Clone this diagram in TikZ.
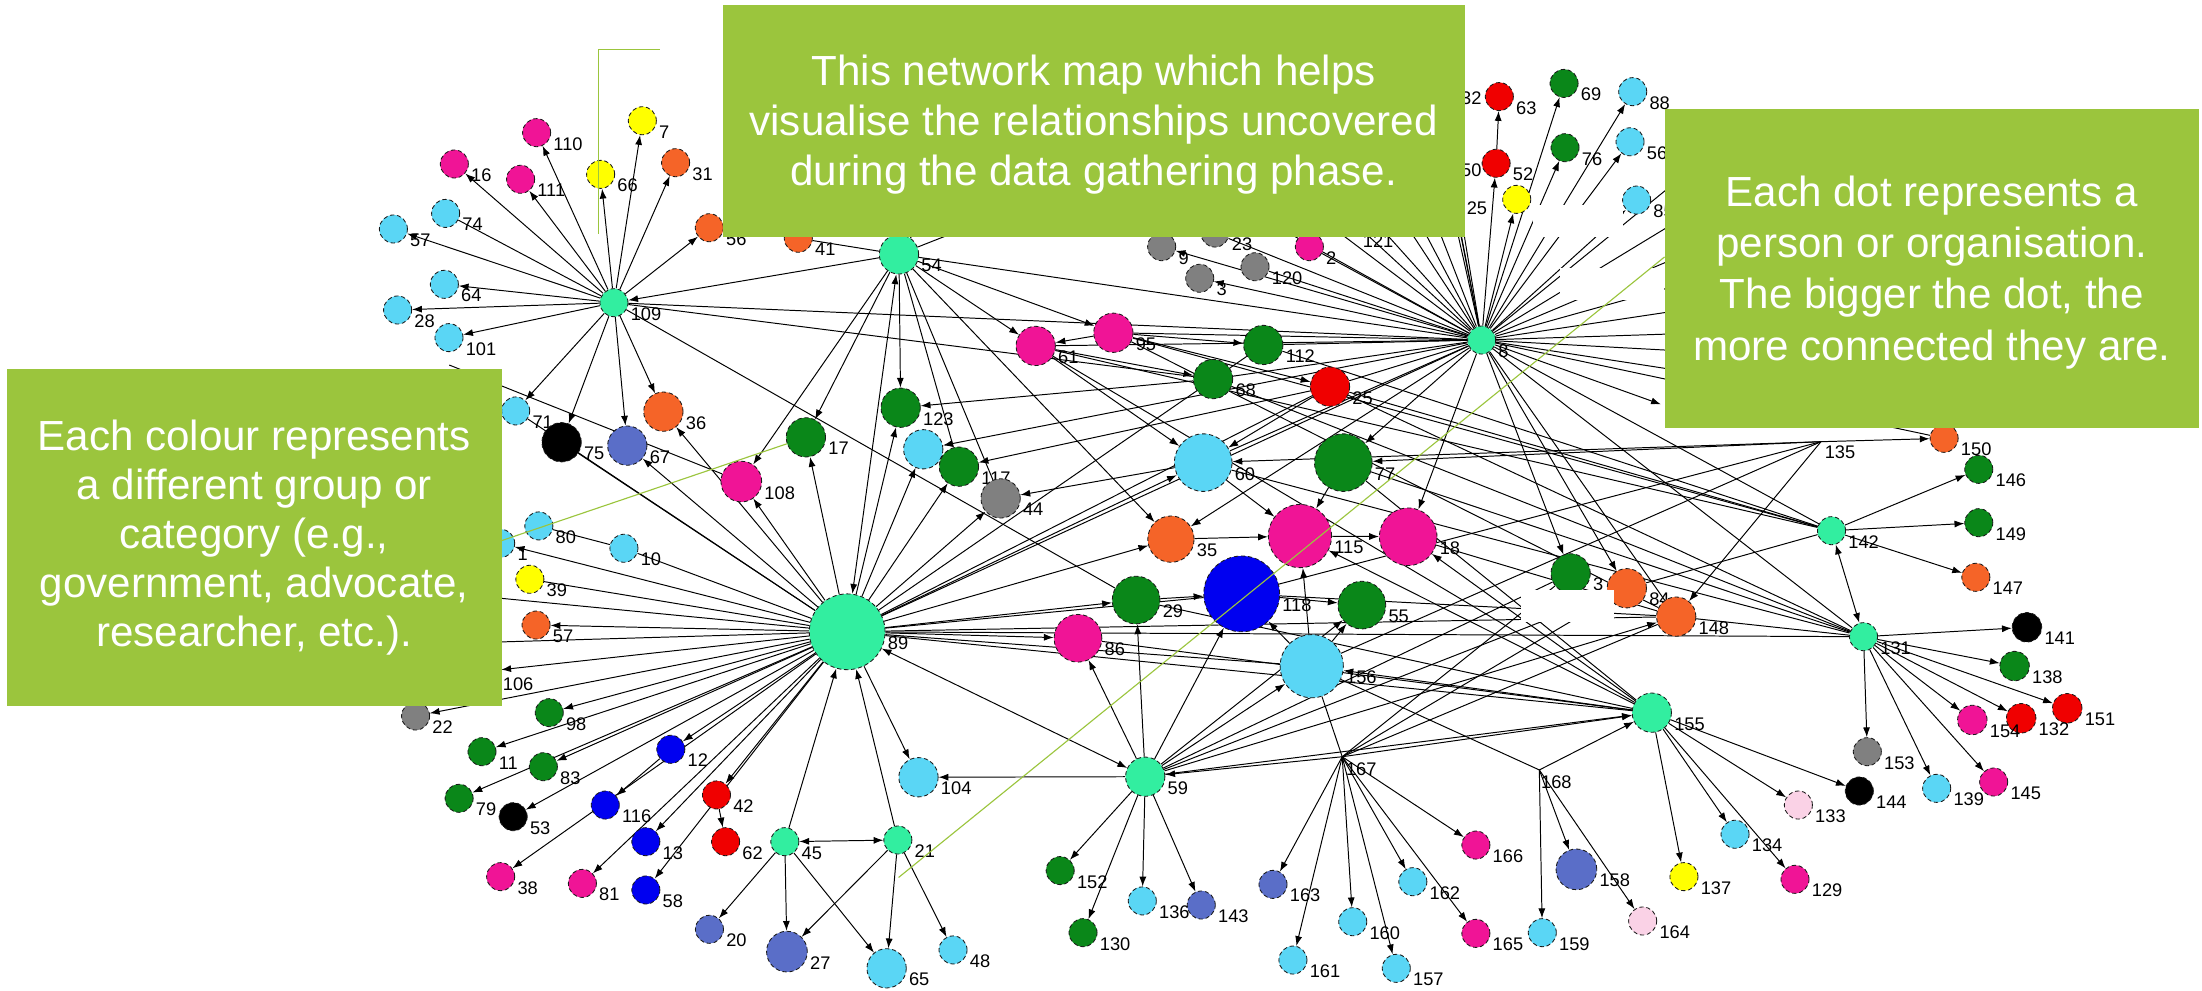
\documentclass[tikz,border=0pt]{standalone}
\usepackage{fontspec}
\setmainfont{Liberation Sans}
\usetikzlibrary{arrows.meta}
\pgfdeclarelayer{bg}
\pgfsetlayers{bg,main}
\definecolor{chub}{RGB}{50,238,160}
\definecolor{ccy}{RGB}{90,214,245}
\definecolor{cmg}{RGB}{240,20,150}
\definecolor{cgr}{RGB}{10,135,25}
\definecolor{cor}{RGB}{245,100,40}
\definecolor{crd}{RGB}{240,0,0}
\definecolor{cye}{RGB}{255,255,0}
\definecolor{cbl}{RGB}{0,0,240}
\definecolor{csl}{RGB}{90,110,200}
\definecolor{cgy}{RGB}{128,128,128}
\definecolor{cbk}{RGB}{0,0,0}
\definecolor{cpk}{RGB}{250,210,230}
\definecolor{cbox}{RGB}{155,197,61}
\tikzset{
 dot/.style={circle, draw=black!90, densely dashed, line width=0.6pt, inner sep=0pt},
 lab/.style={font=\fontsize{13}{13}\selectfont, inner sep=0.5pt, anchor=west},
 ed/.style={line width=0.7pt, -{Latex[length=7pt,width=5pt]}},
 pl/.style={line width=0.7pt},
 bi/.style={line width=0.7pt, {Latex[length=7pt,width=5pt]}-{Latex[length=7pt,width=5pt]}},
 boxtext/.style={text=white, align=center, inner sep=0pt},
 callout/.style={draw=cbox, line width=0.8pt},
 patch/.style={fill=white}
}
\newcommand{\nd}[6]{\node[dot, fill=#5, minimum size=#4pt] (n#1) at (#2,#3) {};\node[lab] (l#1) at ([xshift=1pt,yshift=-8pt]n#1.east) {#6};}
\begin{document}
\begin{tikzpicture}[x=1pt,y=-1pt]
\useasboundingbox (0,0) rectangle (1568.4,705.8);
% ---------- nodes ----------
\nd{109}{437.3}{215.6}{20}{chub}{109}
\nd{110}{382.2}{94.5}{20}{cmg}{110}
\nd{16}{323.6}{116.8}{20}{cmg}{16}
\nd{111}{370.8}{127.7}{20}{cmg}{111}
\nd{66}{427.8}{124.2}{20}{cye}{66}
\nd{7}{457.5}{86}{20}{cye}{7}
\nd{31}{481.2}{115.9}{20}{cor}{31}
\nd{56o}{505.2}{162.2}{20}{cor}{56}
\nd{74}{317.4}{152}{20}{ccy}{74}
\nd{57c}{280.2}{163.1}{20}{ccy}{57}
\nd{64}{316.5}{202.5}{20}{ccy}{64}
\nd{28}{283.2}{220.8}{20}{ccy}{28}
\nd{101}{319.8}{240.5}{20}{ccy}{101}
\nd{71}{367.3}{292.7}{20}{ccy}{71}
\nd{75}{400}{315}{28}{cbk}{75}
\nd{67}{446.8}{317.4}{28}{csl}{67}
\nd{36}{472.5}{293.2}{28}{cor}{36}
\nd{41}{568.6}{169.7}{20}{cor}{41}
\nd{54}{640.3}{181.2}{28}{chub}{54}
\nd{9}{827.4}{175.7}{20}{cgy}{9}
\nd{3}{854.5}{198.2}{20}{cgy}{3}
\nd{120}{893.9}{190}{20}{cgy}{120}
\nd{23}{865.4}{166}{20}{cgy}{23}
\nd{2}{932.6}{175.7}{20}{cmg}{2}
\nd{95}{793}{237}{28}{cmg}{95}
\nd{61}{737.7}{246.4}{28}{cmg}{61}
\nd{112}{899.8}{245.7}{28}{cgr}{112}
\nd{68}{864}{270}{28}{cgr}{68}
\nd{25}{947.3}{275.4}{28}{crd}{25}
\nd{123}{641.5}{290.4}{28}{cgr}{123}
\nd{17}{574}{311.5}{28}{cgr}{17}
\nd{cy}{657.6}{320}{28}{ccy}{}
\nd{117}{683}{332.4}{28}{cgr}{117}
\nd{44}{712.7}{355}{28}{cgy}{44}
\nd{108}{528}{343}{29}{cmg}{108}
\nd{60}{857}{329.5}{41}{ccy}{60}
\nd{77}{956.8}{329.5}{41}{cgr}{77}
\nd{35}{834}{384}{33}{cor}{35}
\nd{115}{925.9}{381.8}{45}{cmg}{115}
\nd{18}{1003}{382.3}{41}{cmg}{18}
\nd{118}{884.4}{423}{54}{cbl}{118}
\nd{29}{809.2}{427.4}{34}{cgr}{29}
\nd{86}{767.8}{454.6}{34}{cmg}{86}
\nd{55}{970}{431}{34}{cgr}{55}
\nd{156}{934.3}{474.5}{45}{ccy}{156}
\nd{3g}{1118.7}{408.4}{28}{cgr}{3}
\nd{84}{1158.7}{419}{28}{cor}{84}
\nd{148}{1193.9}{439.2}{28}{cor}{148}
\nd{89}{603.4}{450}{54}{chub}{89}
\nd{80}{383.8}{374.6}{20}{ccy}{80}
\nd{10}{444.4}{390.5}{20}{ccy}{10}
\nd{1}{356.6}{387}{20}{ccy}{1}
\nd{39}{377.4}{412.6}{20}{cye}{39}
\nd{57}{381.8}{445.2}{20}{cor}{57}
\nd{22}{296}{510}{20}{cgy}{22}
\nd{98}{391.2}{507.6}{20}{cgr}{98}
\nd{11}{343.3}{535.4}{20}{cgr}{11}
\nd{83}{387}{546.1}{20}{cgr}{83}
\nd{79}{327}{568.6}{20}{cgr}{79}
\nd{53}{365.5}{581.7}{20}{cbk}{53}
\nd{12}{477.8}{533.7}{20}{cbl}{12}
\nd{116}{431.1}{573.4}{20}{cbl}{116}
\nd{42}{510.3}{566.2}{20}{crd}{42}
\nd{62}{516.8}{599.5}{20}{crd}{62}
\nd{13}{460}{599.5}{20}{cbl}{13}
\nd{38}{356.6}{624.4}{20}{cmg}{38}
\nd{81}{414.8}{629.2}{20}{cmg}{81}
\nd{58}{460}{633.9}{20}{cbl}{58}
\nd{45}{559}{599.5}{20}{chub}{45}
\nd{21}{639.5}{598.3}{20}{chub}{21}
\nd{20}{505.3}{661.9}{20}{csl}{20}
\nd{27}{560.5}{677.8}{29}{csl}{27}
\nd{65}{631.5}{689.7}{28}{ccy}{65}
\nd{48}{678.8}{676.6}{20}{ccy}{48}
\nd{104}{654.2}{553.6}{28}{ccy}{104}
\nd{59}{815.7}{553.2}{28}{chub}{59}
\nd{152}{755.1}{620.1}{20}{cgr}{152}
\nd{130}{771.4}{664.3}{20}{cgr}{130}
\nd{136}{813.6}{641.7}{20}{ccy}{136}
\nd{143}{855.6}{644.6}{20}{csl}{143}
\nd{163}{906.7}{629.9}{20}{csl}{163}
\nd{161}{920.9}{683.8}{20}{ccy}{161}
\nd{160}{963.5}{656.5}{20}{ccy}{160}
\nd{157}{994.5}{689.7}{20}{ccy}{157}
\nd{162}{1006.3}{628}{20}{ccy}{162}
\nd{165}{1051.2}{664.8}{20}{cmg}{165}
\nd{166}{1051.2}{601.9}{20}{cmg}{166}
\nd{158}{1122.8}{619.2}{29}{csl}{158}
\nd{159}{1098.5}{664.3}{20}{ccy}{159}
\nd{164}{1170}{656}{20}{cpk}{164}
\nd{155}{1176.5}{507.6}{28}{chub}{155}
\nd{133}{1280.9}{573.4}{20}{cpk}{133}
\nd{134}{1235.8}{594.2}{20}{ccy}{134}
\nd{137}{1199.4}{624.4}{20}{cye}{137}
\nd{129}{1278.5}{626.3}{20}{cmg}{129}
\nd{144}{1324.3}{563.4}{20}{cbk}{144}
\nd{153}{1330}{535.4}{20}{cgy}{153}
\nd{139}{1379.4}{561.5}{20}{ccy}{139}
\nd{145}{1420}{557}{20}{cmg}{145}
\nd{131}{1327.3}{453.5}{20}{chub}{131}
\nd{141}{1443.7}{446.8}{21}{cbk}{141}
\nd{138}{1434.9}{474.4}{21}{cgr}{138}
\nd{151}{1472.4}{504.5}{21}{crd}{151}
\nd{132}{1439.6}{511.6}{21}{crd}{132}
\nd{154}{1404.8}{512.8}{21}{cmg}{154}
\nd{142}{1304.5}{378}{20}{chub}{142}
\nd{146}{1409.4}{334.3}{20}{cgr}{146}
\nd{149}{1409.4}{372.3}{20}{cgr}{149}
\nd{147}{1407.3}{411.2}{20}{cor}{147}
\nd{150}{1384.7}{312.2}{20}{cor}{150}
\nd{8}{1055.3}{242.2}{20}{chub}{8}
\nd{63}{1067.9}{68.8}{20}{crd}{63}
\nd{52}{1065.6}{116.3}{20}{crd}{52}
\nd{ye}{1080.3}{142}{20}{cye}{}
\nd{69}{1114}{59.4}{20}{cgr}{69}
\nd{76}{1114.7}{105.2}{20}{cgr}{76}
\nd{88}{1162.9}{65.3}{20}{ccy}{88}
\nd{56c}{1161}{101}{20}{ccy}{56}
\nd{cy3}{1165.7}{142.5}{20}{ccy}{85}
% point nodes and hidden ends
\coordinate (n167) at (956,539);
\coordinate (n168) at (1096.4,548.4);
\coordinate (n135) at (1297,314.6);
\node[lab] (l167) at (958,548) {167};
\node[lab] (l168) at (1097,557) {168};
\node[lab] (l135) at (1299,322) {135};
\node[lab] (l106) at (357.5,487) {106};
\node[lab] (lT32) at (1040,70) {32};
\node[lab] (lT50) at (1040,121) {50};
\node[lab] (lT25) at (1044,148) {25};
\node[lab] (lT121) at (970,172) {121};
\coordinate (nX106) at (357,477);
\coordinate (nL1) at (330,458);
\coordinate (nL2) at (345,425);
\coordinate (nL3) at (320,260);
\coordinate (nTa) at (1025,60);
\coordinate (nTb) at (1030,112);
\coordinate (nTc) at (1035,140);
\coordinate (nTd) at (955,150);
\coordinate (nTe) at (1000,100);
\coordinate (nTf) at (975,90);
\coordinate (nTg) at (950,125);
\coordinate (nTh) at (1010,40);
\coordinate (nTi) at (985,135);
\coordinate (nTj) at (920,140);
\coordinate (nTk) at (880,145);
\coordinate (nTs1) at (600,100);
\coordinate (nTs2) at (690,110);
\coordinate (nTs3) at (745,140);
\coordinate (nRa) at (1230,100);
\coordinate (nRb) at (1240,130);
\coordinate (nRc) at (1250,160);
\coordinate (nRd) at (1260,185);
\coordinate (nRe) at (1270,210);
\coordinate (nRf) at (1280,235);
\coordinate (nRg) at (1290,255);
\coordinate (nRh) at (1300,280);
\coordinate (nRi) at (1183,288);
% ---------- edges ----------
\begin{pgfonlayer}{bg}
\fill[white] (0,0) rectangle (1568.4,705.8);
\foreach \a/\b in {109/110,109/111,109/16,109/66,109/7,109/31,109/56o,109/57c,109/64,109/28,109/101,109/71,109/75,109/67,109/36,54/109,
 54/17,54/61,54/95,54/35,54/108,54/123,
 95/61,61/68,68/123,61/60,95/112,95/25,25/60,25/117,8/cy,60/44,
 8/77,8/35,8/18,8/3g,8/84,8/52,52/63,8/ye,8/69,8/76,8/88,8/56c,8/cy3,8/9,8/3,
 77/115,60/115,35/115,115/18,29/118,118/55,156/118,156/115,156/55,
 89/108,89/17,89/123,89/cy,89/117,89/44,89/60,89/35,89/29,89/86,89/1,89/57,89/X106,89/22,89/98,89/11,89/83,89/79,89/53,89/12,12/116,89/38,89/13,89/81,89/58,89/42,42/62,45/89,21/89,89/104,59/104,89/67,89/36,
 45/20,45/27,45/65,21/27,21/65,21/48,
 59/152,59/130,59/136,59/143,59/86,59/29,59/118,59/156,59/155,59/148,59/55,167/59,
 167/163,167/161,167/160,167/157,167/162,167/165,167/166,167/155,
 168/159,168/158,168/164,168/155,
 155/133,155/134,155/137,155/129,155/144,155/115,155/18,155/156,
 131/141,131/138,131/151,131/132,131/154,131/153,131/139,131/145,
 142/146,142/149,142/147,
 135/150,135/60,135/77,135/148,8/Ri}
 \draw[ed] (n\a) -- (n\b);
\foreach \a/\b in {54/89,45/21,142/131,89/59}
 \draw[bi] (n\a) -- (n\b);
\foreach \a/\b in {109/74,109/8,109/68,109/29,108/L3,54/41,54/8,54/44,54/117,54/Ts1,54/Ts2,54/Ts3,80/10,10/89,89/39,89/L1,89/L2,89/75,89/71,89/8,89/25,89/112,89/156,89/155,89/148,89/131,89/118,
 167/156,156/168,84/142,8/25,8/112,8/68,8/120,8/2,8/23,8/61,8/95,8/60,8/142,8/131,8/148,8/150,
 8/Ta,8/Tb,8/Tc,8/Td,8/Te,8/Tf,8/Tg,8/Th,8/Ti,8/Tj,8/Tk,
 8/Ra,8/Rb,8/Rc,8/Rd,8/Re,8/Rf,8/Rg,8/Rh,
 131/148,135/156,135/118,86/155,29/155,118/148,61/142,95/142,25/142,112/142,68/131,25/131,77/131,60/131,77/155,18/148,
 167/84,167/148,167/3g,59/84,59/3g,61/155,95/148}
 \draw[pl] (n\a) -- (n\b);
\end{pgfonlayer}
% ---------- white patches ----------
\fill[patch] (1092,146) rectangle (1156,169);
\fill[patch] (1111,191) rectangle (1185,214);
\fill[patch] (1083,420) rectangle (1149.6,443);
% ---------- text boxes ----------
\fill[cbox] (515,3.6) rectangle (1043.4,168.8);
\node[boxtext, font=\fontsize{30}{35.6}\selectfont] (ttop) at (779,89) {This network map which helps\\visualise the relationships uncovered\\during the data gathering phase.};
\fill[cbox] (5,262.8) rectangle (357.5,502.6);
\node[boxtext, font=\fontsize{30}{35}\selectfont] (tleft) at (181,383) {Each colour represents\\a different group or\\category (e.g.,\\government, advocate,\\researcher, etc.).};
\fill[cbox] (1185.6,77.6) rectangle (1566,305);
\node[boxtext, font=\fontsize{30}{36.6}\selectfont] (tright) at (1376,194) {Each dot represents a\\person or organisation.\\The bigger the dot, the\\more connected they are.};
% ---------- callout lines ----------
\coordinate (cA) at (470,35);
\coordinate (cB) at (426,35);
\coordinate (cC) at (426,167);
\draw[callout] (cA) -- (cB) -- (cC);
\coordinate (cD) at (357.5,385);
\draw[callout] (cD) -- (n17);
\coordinate (cE) at (1185.6,183);
\coordinate (cF) at (640,625);
\draw[callout] (cE) -- (cF);
\end{tikzpicture}
\end{document}
